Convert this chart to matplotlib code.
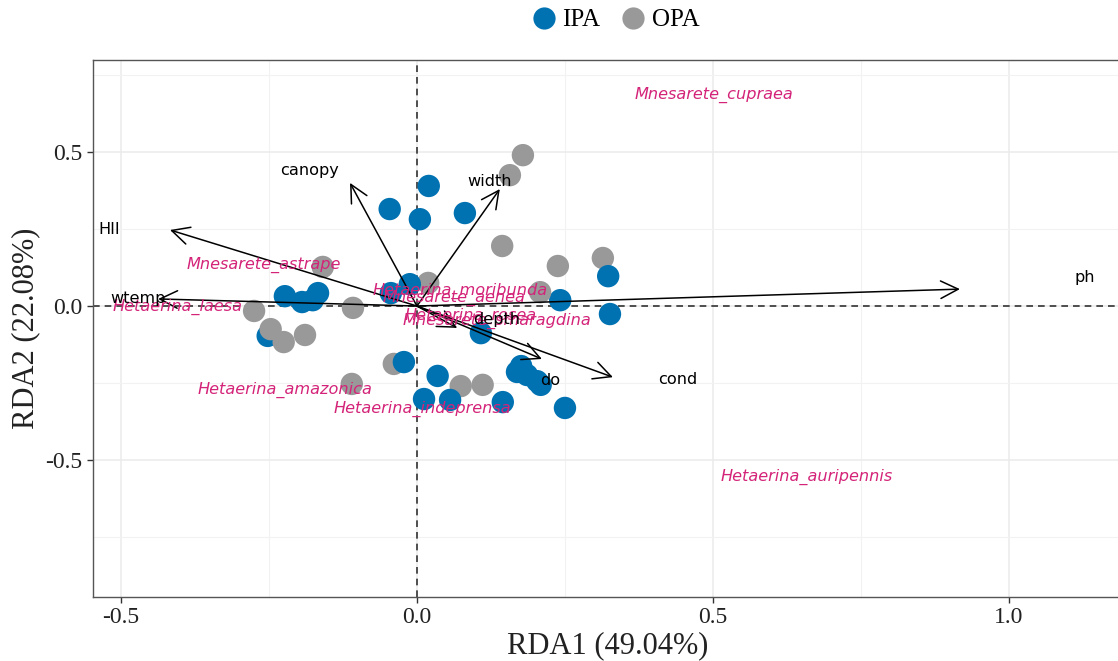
import matplotlib
matplotlib.use("Agg")
import matplotlib.pyplot as plt
from matplotlib.lines import Line2D
from matplotlib.ticker import MultipleLocator

plt.rcParams["axes.unicode_minus"] = False

# ---- site scores (drawn in this order) ----
site_x = [-0.252, 0.020, -0.046, 0.005, 0.081, 0.179, 0.157, 0.144, 0.238, 0.314,
          0.323, 0.242, 0.326, 0.208, 0.019, -0.012, -0.044, 0.108, -0.159,
          -0.108, -0.275, -0.223, -0.194, -0.167, -0.176, -0.247, -0.225, -0.189,
          -0.039, -0.022, -0.110, 0.074, 0.111, 0.035, 0.012, 0.056, 0.145,
          0.176, 0.169, 0.186, 0.203, 0.209, 0.250]
site_y = [-0.097, 0.390, 0.315, 0.282, 0.302, 0.490, 0.425, 0.195, 0.130, 0.156,
          0.097, 0.019, -0.026, 0.045, 0.075, 0.071, 0.042, -0.088, 0.127,
          -0.006, -0.016, 0.032, 0.013, 0.042, 0.019, -0.075, -0.117, -0.094,
          -0.188, -0.182, -0.253, -0.260, -0.256, -0.227, -0.302, -0.305, -0.312,
          -0.195, -0.214, -0.224, -0.244, -0.256, -0.331]
site_group = ["IPA", "IPA", "IPA", "IPA", "IPA", "OPA", "OPA", "OPA", "OPA", "OPA",
              "IPA", "IPA", "IPA", "OPA", "OPA", "IPA", "IPA", "IPA", "OPA",
              "OPA", "OPA", "IPA", "IPA", "IPA", "IPA", "OPA", "OPA", "OPA",
              "OPA", "IPA", "OPA", "OPA", "OPA", "IPA", "IPA", "IPA", "IPA",
              "IPA", "IPA", "IPA", "IPA", "IPA", "IPA"]

# ---- environmental vectors ----
env_names = ["HII", "wtemp", "canopy", "width", "ph", "depth", "do", "cond"]
env_x = [-0.417, -0.437, -0.113, 0.140, 0.917, 0.068, 0.211, 0.331]
env_y = [0.247, 0.023, 0.400, 0.380, 0.055, -0.071, -0.172, -0.231]
env_lab_x = [-0.519, -0.471, -0.182, 0.122, 1.128, 0.135, 0.225, 0.441]
env_lab_y = [0.247, 0.026, 0.440, 0.406, 0.094, -0.045, -0.243, -0.240]

# ---- species scores ----
species = ["Mnesarete_cupraea", "Mnesarete_astrape", "Hetaerina_laesa",
           "Hetaerina_moribunda", "Mnesarete_aenea", "Hetaerina_rosea",
           "Mnesarete_smaragdina", "Hetaerina_amazonica", "Hetaerina_indeprensa",
           "Hetaerina_auripennis"]
sp_x = [0.502, -0.259, -0.404, 0.073, 0.063, 0.090, 0.135, -0.223, 0.010, 0.659]
sp_y = [0.685, 0.133, -0.003, 0.049, 0.026, -0.032, -0.049, -0.273, -0.334, -0.555]

groups = ["IPA", "OPA"]
group_colors = {"IPA": "#0072B2", "OPA": "#999999"}

serif = ["Liberation Serif", "DejaVu Serif"]

fig = plt.figure(figsize=(11.18, 6.61), dpi=100)
ax = fig.add_axes([0.0832, 0.0968, 0.92, 0.8124])
ax.set_xlim(-0.547, 1.190)
ax.set_ylim(-0.945, 0.799)

# grid (major + minor)
ax.xaxis.set_major_locator(MultipleLocator(0.5))
ax.yaxis.set_major_locator(MultipleLocator(0.5))
ax.xaxis.set_minor_locator(MultipleLocator(0.25))
ax.yaxis.set_minor_locator(MultipleLocator(0.25))
ax.grid(True, which="major", color="#EBEBEB", lw=1.1, zorder=0)
ax.grid(True, which="minor", color="#F2F2F2", lw=0.8, zorder=0)
ax.set_axisbelow(True)

for s in ax.spines.values():
    s.set_color("#555555")
    s.set_linewidth(1.0)

ax.tick_params(which="minor", length=0)
ax.tick_params(which="major", length=4, color="#333333", width=1.0,
               labelsize=17, labelcolor="#222222")
for lab in ax.get_xticklabels() + ax.get_yticklabels():
    lab.set_fontfamily(serif)

# reference lines through origin
ax.axhline(0, color="#333333", lw=1.2, ls=(0, (4, 3)), zorder=1)
ax.axvline(0, color="#333333", lw=1.2, ls=(0, (4, 3)), zorder=1)

# sites
ax.scatter(site_x, site_y, s=260, c=[group_colors[g] for g in site_group],
           edgecolors="none", zorder=2)

# species labels
for name, x, y in zip(species, sp_x, sp_y):
    ax.text(x, y, name, color="#D42479", fontsize=11.6, style="italic",
            family="DejaVu Sans", ha="center", va="center", zorder=4)

# environmental arrows
for name, x, y, lx, ly in zip(env_names, env_x, env_y, env_lab_x, env_lab_y):
    ax.annotate("", xy=(x, y), xytext=(0, 0),
                arrowprops=dict(arrowstyle="->,head_length=0.7,head_width=0.35",
                                lw=1.1, color="black", mutation_scale=18,
                                shrinkA=0, shrinkB=0), zorder=3)
    ax.text(lx, ly, name, color="black", fontsize=11.6, family="DejaVu Sans",
            ha="center", va="center", zorder=4)

ax.set_xlabel("RDA1 (49.04%)", fontsize=22, family=serif, color="#222222",
              labelpad=2)
ax.set_ylabel("RDA2 (22.08%)", fontsize=22, family=serif, color="#222222",
              labelpad=4)

handles = [Line2D([], [], marker="o", ls="", markersize=16,
                  markerfacecolor=group_colors[g], markeredgecolor="none")
           for g in groups]
fig.legend(handles, groups, loc="center", bbox_to_anchor=(614 / 1118, 1 - 20 / 661),
           ncol=2, frameon=False, prop={"family": serif, "size": 18},
           handletextpad=0.15, columnspacing=0.7, handlelength=1.2)

fig.savefig("out.png", dpi=100)
